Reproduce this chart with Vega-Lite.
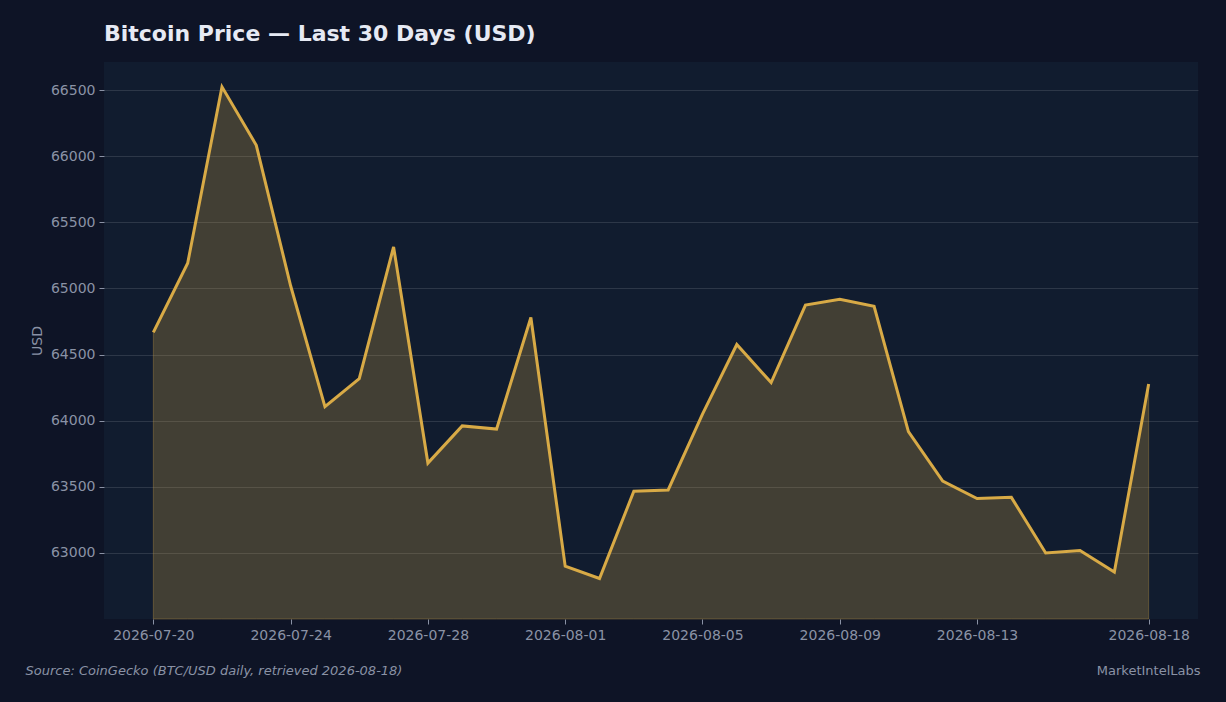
{
  "$schema": "https://vega.github.io/schema/vega-lite/v6.json",
  "width": 1094,
  "height": 557,
  "autosize": {"type": "none"},
  "padding": {"left": 104, "top": 62, "right": 28, "bottom": 83},
  "background": "#0e1426",
  "title": {
    "text": "Bitcoin Price — Last 30 Days (USD)",
    "anchor": "start",
    "frame": "group",
    "font": "DejaVu Sans",
    "fontSize": 22,
    "fontWeight": "bold",
    "color": "#e6eaf4",
    "offset": 16
  },
  "config": {
    "view": {"fill": "#111c2f", "stroke": null},
    "axis": {
      "labelFont": "DejaVu Sans",
      "labelFontSize": 14,
      "labelColor": "#8a92a5",
      "titleFont": "DejaVu Sans",
      "titleFontWeight": "normal",
      "titleColor": "#8a92a5",
      "tickColor": "#8a92a5",
      "tickSize": 5,
      "domain": false,
      "gridColor": "#ffffff",
      "gridOpacity": 0.12,
      "gridWidth": 1
    }
  },
  "data": {
    "values": [
      {"date": "2026-07-20", "price": 64668},
      {"date": "2026-07-21", "price": 65190},
      {"date": "2026-07-22", "price": 66524},
      {"date": "2026-07-23", "price": 66082},
      {"date": "2026-07-24", "price": 65020},
      {"date": "2026-07-25", "price": 64105},
      {"date": "2026-07-26", "price": 64318},
      {"date": "2026-07-27", "price": 65314},
      {"date": "2026-07-28", "price": 63679},
      {"date": "2026-07-29", "price": 63960},
      {"date": "2026-07-30", "price": 63936},
      {"date": "2026-07-31", "price": 64780},
      {"date": "2026-08-01", "price": 62899},
      {"date": "2026-08-02", "price": 62806},
      {"date": "2026-08-03", "price": 63466},
      {"date": "2026-08-04", "price": 63476},
      {"date": "2026-08-05", "price": 64050},
      {"date": "2026-08-06", "price": 64576},
      {"date": "2026-08-07", "price": 64288},
      {"date": "2026-08-08", "price": 64874},
      {"date": "2026-08-09", "price": 64918},
      {"date": "2026-08-10", "price": 64864},
      {"date": "2026-08-11", "price": 63917},
      {"date": "2026-08-12", "price": 63543},
      {"date": "2026-08-13", "price": 63411},
      {"date": "2026-08-14", "price": 63420},
      {"date": "2026-08-15", "price": 62999},
      {"date": "2026-08-16", "price": 63018},
      {"date": "2026-08-17", "price": 62855},
      {"date": "2026-08-18", "price": 64277}
    ]
  },
  "encoding": {
    "x": {
      "field": "date",
      "type": "temporal",
      "scale": {
        "type": "utc",
        "domain": [
          {"utc": true, "year": 2026, "month": 7, "date": 18, "hours": 13, "minutes": 30},
          {"utc": true, "year": 2026, "month": 8, "date": 19, "hours": 10, "minutes": 30}
        ]
      }
    },
    "y": {
      "field": "price",
      "type": "quantitative",
      "scale": {"domain": [62500, 66712], "zero": false, "nice": false},
      "axis": {
        "title": "USD",
        "titleFontSize": 14,
        "titlePadding": 6,
        "format": "d",
        "values": [63000, 63500, 64000, 64500, 65000, 65500, 66000, 66500],
        "grid": true,
        "labelPadding": 4
      }
    }
  },
  "layer": [
    {
      "mark": {
        "type": "area",
        "fill": "#d6a845",
        "fillOpacity": 0.25,
        "stroke": "#d6a845",
        "strokeOpacity": 0.3,
        "strokeWidth": 1
      },
      "encoding": {
        "y2": {"datum": 62500},
        "x": {
          "field": "date",
          "type": "temporal",
          "axis": {
            "orient": "bottom",
            "values": [
              {"utc": true, "year": 2026, "month": 7, "date": 20},
              {"utc": true, "year": 2026, "month": 7, "date": 24},
              {"utc": true, "year": 2026, "month": 7, "date": 28},
              {"utc": true, "year": 2026, "month": 8, "date": 1},
              {"utc": true, "year": 2026, "month": 8, "date": 5},
              {"utc": true, "year": 2026, "month": 8, "date": 9},
              {"utc": true, "year": 2026, "month": 8, "date": 13},
              {"utc": true, "year": 2026, "month": 8, "date": 18}
            ],
            "labelExpr": "utcFormat(datum.value, '%Y-%m-%d')",
            "grid": false,
            "labelPadding": 4,
            "title": "Source: CoinGecko (BTC/USD daily, retrieved 2026-08-18)",
            "titleFont": "DejaVu Sans",
            "titleFontStyle": "italic",
            "titleFontSize": 13,
            "titleAnchor": "start",
            "titleAlign": "left",
            "titleBaseline": "middle",
            "titleX": -79,
            "titleY": 51
          }
        }
      }
    },
    {
      "mark": {
        "type": "line",
        "color": "#d8aa46",
        "strokeWidth": 3,
        "strokeJoin": "miter"
      },
      "encoding": {
        "x": {
          "field": "date",
          "type": "temporal",
          "axis": {
            "orient": "bottom",
            "labels": false,
            "ticks": false,
            "grid": false,
            "domain": false,
            "title": "MarketIntelLabs",
            "titleFontSize": 13,
            "titleAnchor": "end",
            "titleAlign": "right",
            "titleBaseline": "middle",
            "titleX": 1096,
            "titleY": 51
          }
        }
      }
    }
  ],
  "resolve": {"axis": {"x": "independent"}}
}
